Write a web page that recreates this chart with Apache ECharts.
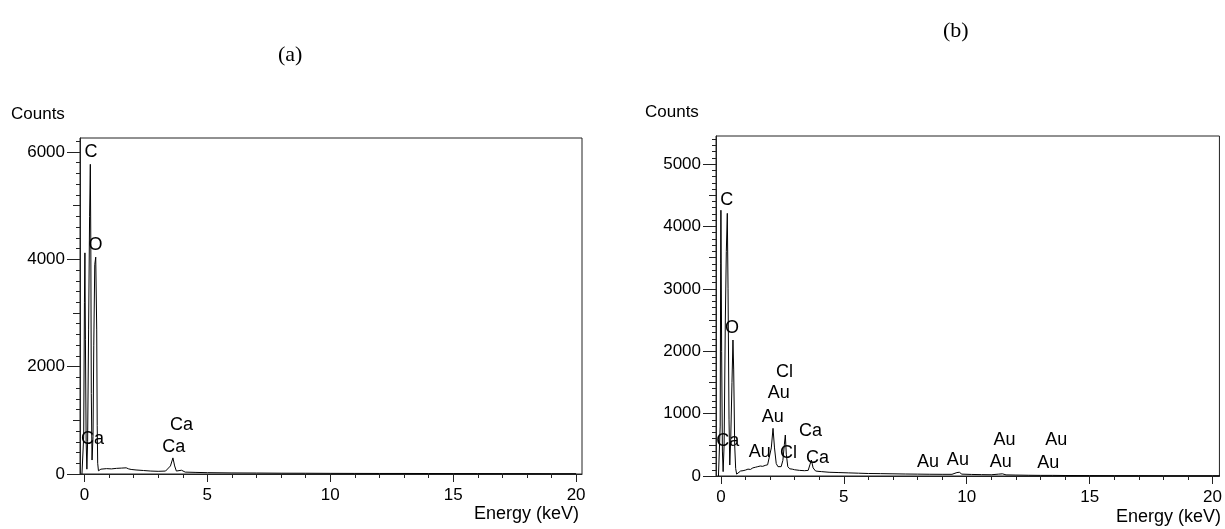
<!DOCTYPE html>
<html>
<head>
<meta charset="utf-8">
<script src="https://cdn.jsdelivr.net/npm/echarts@6/dist/echarts.min.js"></script>
<style>
html,body{margin:0;padding:0;background:#fff;}
#chart{width:1225px;height:529px;}
</style>
</head>
<body>
<div id="chart"></div>
<script>
// ---------- Data: panel (a) ----------
const energyA = [-0.10,-0.05,-0.03,0.00,0.02,0.04,0.07,0.10,0.13,0.17,0.21,0.24,0.26,0.28,0.31,0.35,0.38,0.42,0.46,0.50,0.52,0.54,0.57,0.60,0.63,0.67,
  0.70,0.90,1.10,1.30,1.50,1.70,1.80,1.90,2.10,2.40,2.70,3.00,3.30,3.50,3.60,3.67,3.74,3.80,3.95,4.02,4.10,4.50,5.00,6.00,7.00,8.00,9.00,10.0,11.0,12.0,13.0,14.0,15.0,16.0,17.0,18.0,19.0,20.0,20.3];
const countsA = [0,0,700,3200,4120,2500,600,90,600,2700,4800,5770,4300,1500,260,700,2400,3900,4040,2700,900,200,60,90,95,
  90,95,100,95,105,110,115,95,85,75,65,55,50,55,150,300,150,55,45,70,40,35,30,25,20,18,15,14,12,11,10,10,9,8,8,7,7,6,6];
const labelsA = [
  ["C", 0.27, 5990], ["O", 0.45, 4270], ["Ca", 0.33, 650], ["Ca", 3.95, 910], ["Ca", 3.63, 500]
];

// ---------- Data: panel (b) ----------
const energyB = [-0.10,-0.05,-0.03,-0.01,0.00,0.03,0.06,0.09,0.13,0.18,0.22,0.26,0.29,0.33,0.36,0.40,0.45,0.49,0.52,0.56,0.60,0.64,
  0.70,0.80,0.90,1.00,1.10,1.20,1.30,1.40,1.50,1.60,1.70,1.80,1.90,1.98,2.05,2.12,2.18,2.25,2.32,2.38,2.45,2.52,2.58,2.62,2.66,2.72,2.80,2.90,3.00,3.20,3.40,3.55,3.62,3.68,3.75,3.85,3.95,4.02,4.10,
  4.40,4.80,5.20,5.60,6.00,6.50,7.00,7.50,8.00,8.50,9.00,9.40,9.60,9.70,9.80,10.2,10.6,11.0,11.3,11.45,11.6,12.0,12.5,13.0,13.5,14.0,15.0,16.0,17.0,18.0,19.0,20.0,20.3];
const countsB = [0,0,800,3400,4260,2000,400,70,500,2500,3600,4210,3000,900,176,600,1500,2180,1700,500,120,30,
  60,80,85,95,110,105,130,140,150,160,155,170,180,200,450,764,450,200,150,130,150,250,500,657,350,150,115,110,100,90,85,90,180,256,130,80,75,100,70,
  60,55,50,45,40,38,35,32,30,28,27,27,55,60,30,25,22,20,30,35,18,15,12,10,10,8,7,6,6,5,5,5,5];
const labelsB = [
  ["C", 0.24, 4420], ["O", 0.45, 2370], ["Ca", 0.28, 560],
  ["Cl", 2.59, 1670], ["Au", 2.35, 1330], ["Au", 2.11, 945], ["Au", 1.58, 385], ["Cl", 2.75, 370],
  ["Ca", 3.64, 720], ["Ca", 3.93, 290],
  ["Au", 8.42, 225], ["Au", 9.64, 255], ["Au", 11.54, 575], ["Au", 11.38, 225], ["Au", 13.64, 575], ["Au", 13.32, 210]
];

// ---------- Tick labels ----------
const xMajorTicks = [0, 5, 10, 15, 20];
const xMinorTicks = [1,2,3,4,6,7,8,9,11,12,13,14,16,17,18,19];
const yMajorTicksA = [0, 2000, 4000, 6000];
const yMidTicksA = [1000, 3000, 5000];
const yMajorTicksB = [0, 1000, 2000, 3000, 4000, 5000];
const yMidTicksB = [500, 1500, 2500, 3500, 4500];

function stepList(step, maxV) { const r = []; for (let v = step; v <= maxV; v += step) r.push(v); return r; }
const yMinorTicksA = stepList(200, 6200);
const yMinorTicksB = stepList(100, 5400);

const AXIS_COLOR = '#222';
const FONT = '"Liberation Sans", Arial, sans-serif';
const plain = v => String(v);

function xAxes(grid, min, max) {
  return [
    { type: 'value', gridIndex: grid, position: 'bottom', min: min, max: max,
      axisLine: { show: true, onZero: false, lineStyle: { color: AXIS_COLOR } },
      axisTick: { show: true, length: 8, customValues: xMajorTicks, lineStyle: { color: AXIS_COLOR } },
      axisLabel: { show: true, customValues: xMajorTicks, formatter: plain, margin: 13, color: '#000', fontSize: 17, fontFamily: FONT },
      splitLine: { show: false } },
    { type: 'value', gridIndex: grid, position: 'bottom', min: min, max: max,
      axisLine: { show: false, onZero: false },
      axisTick: { show: true, length: 4, customValues: xMinorTicks, lineStyle: { color: AXIS_COLOR } },
      axisLabel: { show: false }, splitLine: { show: false } }
  ];
}
function yAxes(grid, max, major, mid, minor) {
  return [
    { type: 'value', gridIndex: grid, position: 'left', min: 0, max: max,
      axisLine: { show: true, onZero: false, lineStyle: { color: AXIS_COLOR } },
      axisTick: { show: true, length: 13, customValues: major, lineStyle: { color: AXIS_COLOR } },
      axisLabel: { show: true, customValues: major, formatter: plain, margin: 15, color: '#000', fontSize: 17, fontFamily: FONT },
      splitLine: { show: false } },
    { type: 'value', gridIndex: grid, position: 'left', min: 0, max: max,
      axisLine: { show: false, onZero: false },
      axisTick: { show: true, length: 7, customValues: mid, lineStyle: { color: AXIS_COLOR } },
      axisLabel: { show: false }, splitLine: { show: false } },
    { type: 'value', gridIndex: grid, position: 'left', min: 0, max: max,
      axisLine: { show: false, onZero: false },
      axisTick: { show: true, length: 4, customValues: minor, lineStyle: { color: AXIS_COLOR } },
      axisLabel: { show: false }, splitLine: { show: false } }
  ];
}

function labelSeries(labels, xi, yi) {
  return {
    type: 'scatter', xAxisIndex: xi, yAxisIndex: yi, symbol: 'circle', symbolSize: 1,
    itemStyle: { color: 'rgba(0,0,0,0)' }, silent: true, z: 5,
    data: labels.map(l => ({ value: [l[1], l[2]], name: l[0] })),
    label: { show: true, position: 'inside', formatter: p => p.name, color: '#000',
      textBorderWidth: 0, textBorderColor: 'transparent', opacity: 1,
      fontSize: 18, fontFamily: FONT }
  };
}

const option = {
  backgroundColor: '#fff',
  animation: false,
  grid: [
    { left: 80, top: 138, width: 502, height: 336, show: true, borderColor: AXIS_COLOR, borderWidth: 1, backgroundColor: 'transparent' },
    { left: 716, top: 136, width: 506, height: 340, show: true, borderColor: AXIS_COLOR, borderWidth: 1, backgroundColor: 'transparent' }
  ],
  xAxis: [].concat(xAxes(0, -0.18, 20.24), xAxes(1, -0.2, 20.28)),
  yAxis: [].concat(yAxes(0, 6260, yMajorTicksA, yMidTicksA, yMinorTicksA), yAxes(1, 5450, yMajorTicksB, yMidTicksB, yMinorTicksB)),
  series: [
    { type: 'line', xAxisIndex: 0, yAxisIndex: 0, showSymbol: false, symbol: 'none',
      lineStyle: { color: '#000', width: 1 }, data: energyA.map((e, i) => [e, countsA[i]]) },
    { type: 'line', xAxisIndex: 2, yAxisIndex: 3, showSymbol: false, symbol: 'none',
      lineStyle: { color: '#000', width: 1 }, data: energyB.map((e, i) => [e, countsB[i]]) },
    labelSeries(labelsA, 0, 0),
    labelSeries(labelsB, 2, 3)
  ],
  graphic: [
    { type: 'text', left: 278, top: 44, style: { text: '(a)', font: '22px "Liberation Serif", "Times New Roman", serif', fill: '#000' } },
    { type: 'text', left: 943, top: 20, style: { text: '(b)', font: '22px "Liberation Serif", "Times New Roman", serif', fill: '#000' } },
    { type: 'text', left: 11, top: 106, style: { text: 'Counts', font: '17px ' + FONT, fill: '#000' } },
    { type: 'text', left: 645, top: 104, style: { text: 'Counts', font: '17px ' + FONT, fill: '#000' } },
    { type: 'text', right: 1225 - 579, top: 505, style: { text: 'Energy (keV)', font: '18px ' + FONT, fill: '#000' } },
    { type: 'text', right: 4, top: 508, style: { text: 'Energy (keV)', font: '18px ' + FONT, fill: '#000' } }
  ]
};

const chart = echarts.init(document.getElementById('chart'), null, { renderer: 'canvas' });
chart.setOption(option);
</script>
</body>
</html>
